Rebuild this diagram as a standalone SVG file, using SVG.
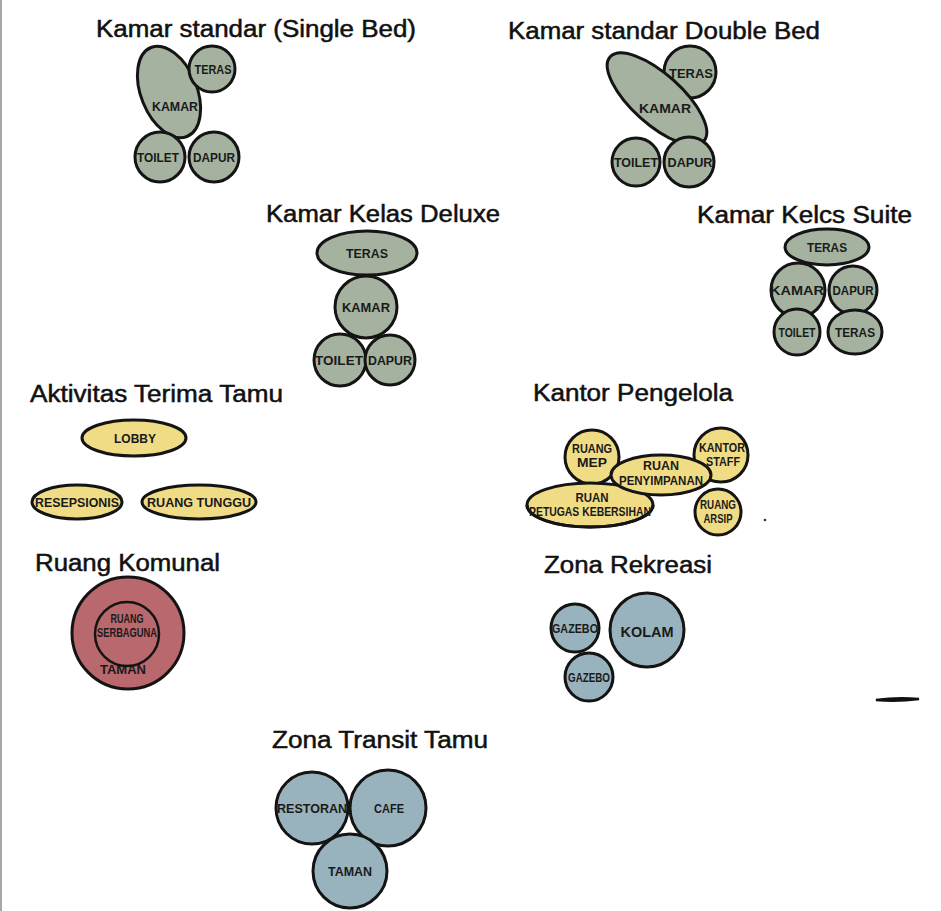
<svg xmlns="http://www.w3.org/2000/svg" width="941" height="911" viewBox="0 0 941 911">
<style>
.t{font-family:"Liberation Sans",Arial,sans-serif;font-size:23px;fill:#111;stroke:#111;stroke-width:0.5}
.l{font-family:"Liberation Sans",Arial,sans-serif;font-size:12px;font-weight:bold;fill:#1a1a1a;text-anchor:middle}
.s{stroke:#141414;stroke-width:3}
.g{fill:#a4b29f}
.y{fill:#f1dc86}
.b{fill:#98b3bd}
.r{fill:#b9686d}
</style>
<rect x="0" y="0" width="941" height="911" fill="#ffffff"/>
<line x1="1" y1="0" x2="1" y2="911" stroke="#8a8a8a" stroke-width="1.5"/>

<g id="connectors"></g>

<!-- Section 1 -->
<g id="title-single">
<text class="t" x="96" y="37" textLength="320" lengthAdjust="spacingAndGlyphs">Kamar standar (Single Bed)</text>
</g>
<g id="s1-kamar">
<ellipse class="g s" cx="169" cy="92" rx="28" ry="48" transform="rotate(-22 169 92)"/>
<text class="l" x="175" y="111" textLength="46" lengthAdjust="spacingAndGlyphs">KAMAR</text>
</g>
<g id="s1-teras">
<circle class="g s" cx="212" cy="69" r="23"/>
<text class="l" x="213" y="74" textLength="37" lengthAdjust="spacingAndGlyphs">TERAS</text>
</g>
<g id="s1-toilet">
<circle class="g s" cx="160" cy="157" r="25"/>
<text class="l" x="158" y="162" textLength="42" lengthAdjust="spacingAndGlyphs">TOILET</text>
</g>
<g id="s1-dapur">
<circle class="g s" cx="214" cy="157" r="25"/>
<text class="l" x="214" y="162" textLength="42" lengthAdjust="spacingAndGlyphs">DAPUR</text>
</g>

<!-- Section 2 -->
<g id="title-double">
<text class="t" x="508" y="39" textLength="312" lengthAdjust="spacingAndGlyphs">Kamar standar Double Bed</text>
</g>
<g id="s2-teras">
<circle class="g s" cx="690" cy="72" r="26"/>
<text class="l" x="691" y="78" textLength="44" lengthAdjust="spacingAndGlyphs">TERAS</text>
</g>
<g id="s2-kamar">
<ellipse class="g s" cx="657" cy="99" rx="25" ry="63" transform="rotate(-48 657 99)"/>
<text class="l" x="665" y="113" textLength="52" lengthAdjust="spacingAndGlyphs">KAMAR</text>
</g>
<g id="s2-toilet">
<circle class="g s" cx="636" cy="162" r="24"/>
<text class="l" x="636" y="167" textLength="44" lengthAdjust="spacingAndGlyphs">TOILET</text>
</g>
<g id="s2-dapur">
<circle class="g s" cx="689" cy="162" r="25"/>
<text class="l" x="690" y="167" textLength="45" lengthAdjust="spacingAndGlyphs">DAPUR</text>
</g>

<!-- Section 3 -->
<g id="title-deluxe">
<text class="t" x="266" y="222" textLength="234" lengthAdjust="spacingAndGlyphs">Kamar Kelas Deluxe</text>
</g>
<g id="s3-teras">
<ellipse class="g s" cx="367" cy="253" rx="50" ry="22"/>
<text class="l" x="367" y="258" textLength="42" lengthAdjust="spacingAndGlyphs">TERAS</text>
</g>
<g id="s3-kamar">
<circle class="g s" cx="366" cy="307" r="31"/>
<text class="l" x="366" y="312" textLength="48" lengthAdjust="spacingAndGlyphs">KAMAR</text>
</g>
<g id="s3-toilet">
<circle class="g s" cx="340" cy="360" r="26"/>
<text class="l" x="339" y="365" textLength="48" lengthAdjust="spacingAndGlyphs">TOILET</text>
</g>
<g id="s3-dapur">
<circle class="g s" cx="390" cy="360" r="25"/>
<text class="l" x="390" y="365" textLength="44" lengthAdjust="spacingAndGlyphs">DAPUR</text>
</g>

<!-- Section 4 -->
<g id="title-suite">
<text class="t" x="697" y="223" textLength="215" lengthAdjust="spacingAndGlyphs">Kamar Kelcs Suite</text>
</g>
<g id="s4-teras">
<ellipse class="g s" cx="827" cy="247" rx="42" ry="18"/>
<text class="l" x="827" y="252" textLength="40" lengthAdjust="spacingAndGlyphs">TERAS</text>
</g>
<g id="s4-kamar">
<circle class="g s" cx="798" cy="290" r="27"/>
<text class="l" x="797" y="295" textLength="54" lengthAdjust="spacingAndGlyphs">KAMAR</text>
</g>
<g id="s4-dapur">
<circle class="g s" cx="853" cy="290" r="24"/>
<text class="l" x="853" y="295" textLength="41" lengthAdjust="spacingAndGlyphs">DAPUR</text>
</g>
<g id="s4-toilet">
<circle class="g s" cx="797" cy="332" r="23"/>
<text class="l" x="797" y="337" textLength="37" lengthAdjust="spacingAndGlyphs">TOILET</text>
</g>
<g id="s4-teras2">
<ellipse class="g s" cx="855" cy="332" rx="27" ry="22"/>
<text class="l" x="855" y="337" textLength="40" lengthAdjust="spacingAndGlyphs">TERAS</text>
</g>

<!-- Section 5 -->
<g id="title-aktivitas">
<text class="t" x="30" y="402" textLength="253" lengthAdjust="spacingAndGlyphs">Aktivitas Terima Tamu</text>
</g>
<g id="s5-lobby">
<ellipse class="y s" cx="134" cy="438" rx="52" ry="18"/>
<text class="l" x="135" y="443" textLength="42" lengthAdjust="spacingAndGlyphs">LOBBY</text>
</g>
<g id="s5-resepsionis">
<ellipse class="y s" cx="77" cy="502" rx="45" ry="17"/>
<text class="l" x="77" y="507" textLength="84" lengthAdjust="spacingAndGlyphs">RESEPSIONIS</text>
</g>
<g id="s5-tunggu">
<ellipse class="y s" cx="199" cy="502" rx="57" ry="17"/>
<text class="l" x="199" y="507" textLength="104" lengthAdjust="spacingAndGlyphs">RUANG TUNGGU</text>
</g>

<!-- Section 6 -->
<g id="title-kantor">
<text class="t" x="533" y="401" textLength="200" lengthAdjust="spacingAndGlyphs">Kantor Pengelola</text>
</g>
<g id="s6-mep">
<circle class="y s" cx="592" cy="457" r="27"/>
<text class="l" x="592" y="453" textLength="40" lengthAdjust="spacingAndGlyphs">RUANG</text>
<text class="l" x="592" y="467" textLength="30" lengthAdjust="spacingAndGlyphs">MEP</text>
</g>
<g id="s6-staff">
<circle class="y s" cx="721" cy="455" r="27"/>
<text class="l" x="722" y="452" textLength="46" lengthAdjust="spacingAndGlyphs">KANTOR</text>
<text class="l" x="723" y="466" textLength="34" lengthAdjust="spacingAndGlyphs">STAFF</text>
</g>
<g id="s6-petugas">
<ellipse class="y s" cx="590" cy="505" rx="63" ry="22"/>
</g>
<g id="s6-penyimpanan">
<ellipse class="y s" cx="661" cy="475" rx="50" ry="20"/>
<text class="l" x="661" y="470" textLength="36" lengthAdjust="spacingAndGlyphs">RUAN</text>
<text class="l" x="661" y="485" textLength="84" lengthAdjust="spacingAndGlyphs">PENYIMPANAN</text>
</g>
<g id="s6-petugas-label">
<path d="M527 505 A63 22 0 0 0 653 505" class="s" style="fill:none"/>
<text class="l" x="592" y="502" textLength="33" lengthAdjust="spacingAndGlyphs">RUAN</text>
<text class="l" x="590" y="516" textLength="122" lengthAdjust="spacingAndGlyphs">PETUGAS KEBERSIHAN</text>
</g>
<g id="s6-arsip">
<circle class="y s" cx="718" cy="512" r="23"/>
<text class="l" x="718" y="509" textLength="36" lengthAdjust="spacingAndGlyphs">RUANG</text>
<text class="l" x="718" y="523" textLength="29" lengthAdjust="spacingAndGlyphs">ARSIP</text>
</g>
<circle cx="765" cy="520" r="1.3" fill="#333"/>

<!-- Section 7 -->
<g id="title-komunal">
<text class="t" x="35" y="571" textLength="185" lengthAdjust="spacingAndGlyphs">Ruang Komunal</text>
</g>
<g id="s7-taman">
<circle class="r s" cx="128" cy="633" r="56"/>
<text class="l" x="123" y="674" textLength="46" lengthAdjust="spacingAndGlyphs">TAMAN</text>
</g>
<g id="s7-serbaguna">
<circle class="r s" cx="127" cy="634" r="32" style="stroke-width:2.5"/>
<text class="l" x="127" y="623" textLength="33" lengthAdjust="spacingAndGlyphs">RUANG</text>
<text class="l" x="127" y="637" textLength="60" lengthAdjust="spacingAndGlyphs">SERBAGUNA</text>
</g>

<!-- Section 8 -->
<g id="title-rekreasi">
<text class="t" x="544" y="573" textLength="168" lengthAdjust="spacingAndGlyphs">Zona Rekreasi</text>
</g>
<g id="s8-gazebo1">
<circle class="b s" cx="575" cy="628" r="24"/>
<text class="l" x="575" y="633" textLength="46" lengthAdjust="spacingAndGlyphs">GAZEBO</text>
</g>
<g id="s8-kolam">
<circle class="b s" cx="647" cy="630" r="37"/>
<text class="l" x="647" y="637" style="font-size:15px" textLength="53" lengthAdjust="spacingAndGlyphs">KOLAM</text>
</g>
<g id="s8-gazebo2">
<circle class="b s" cx="589" cy="677" r="24"/>
<text class="l" x="589" y="682" textLength="42" lengthAdjust="spacingAndGlyphs">GAZEBO</text>
</g>
<path d="M876 700 Q897 697 919 699 Q897 702 876 700 Z" fill="#111" stroke="#111" stroke-width="2.5" stroke-linecap="round"/>

<!-- Section 9 -->
<g id="title-transit">
<text class="t" x="272" y="748" textLength="216" lengthAdjust="spacingAndGlyphs">Zona Transit Tamu</text>
</g>
<g id="s9-restoran">
<circle class="b s" cx="312" cy="808" r="36"/>
<text class="l" x="312" y="813" textLength="70" lengthAdjust="spacingAndGlyphs">RESTORAN</text>
</g>
<g id="s9-cafe">
<circle class="b s" cx="388" cy="808" r="38"/>
<text class="l" x="389" y="813" textLength="30" lengthAdjust="spacingAndGlyphs">CAFE</text>
</g>
<g id="s9-taman">
<circle class="b s" cx="350" cy="871" r="37"/>
<text class="l" x="350" y="876" textLength="44" lengthAdjust="spacingAndGlyphs">TAMAN</text>
</g>
</svg>
